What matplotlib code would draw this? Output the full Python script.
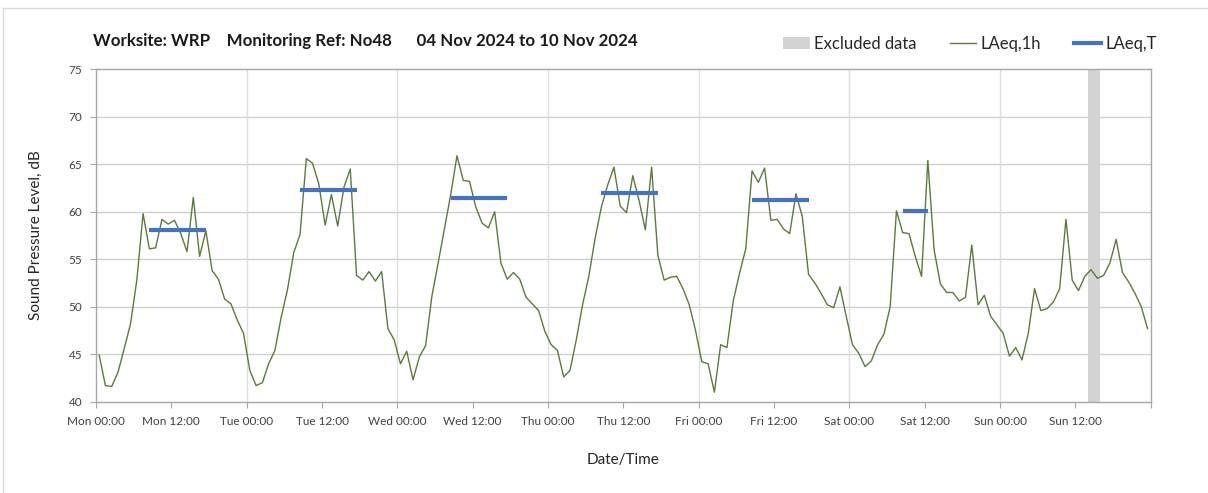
import matplotlib
matplotlib.use("Agg")
import matplotlib.pyplot as plt
from matplotlib.lines import Line2D
from matplotlib.patches import Patch
import numpy as np

plt.rcParams['font.family'] = ['Lato', 'DejaVu Sans']

# Hourly LAeq,1h values, Mon 00:00 .. Sun 23:00 (plotted at mid-hour)
laeq_1h = [
    44.9, 41.7, 41.6, 43.1, 45.6, 48.2, 52.8, 59.8, 56.1, 56.2, 59.2, 58.7,
    59.1, 57.7, 55.8, 61.5, 55.3, 58.0, 53.8, 52.9, 50.8, 50.3, 48.6, 47.2,
    43.3, 41.7, 42.0, 44.0, 45.4, 48.9, 51.8, 55.7, 57.6, 65.6, 65.1, 62.9,
    58.6, 61.8, 58.5, 62.6, 64.5, 53.3, 52.8, 53.7, 52.7, 53.7, 47.7, 46.5,
    44.0, 45.3, 42.3, 44.7, 45.9, 51.1, 54.6, 58.2, 61.8, 65.9, 63.3, 63.2,
    60.5, 58.8, 58.3, 60.0, 54.6, 52.9, 53.6, 52.9, 51.0, 50.3, 49.6, 47.4,
    46.0, 45.4, 42.6, 43.3, 46.5, 50.2, 53.2, 57.2, 60.5, 62.8, 64.7, 60.6,
    59.9, 63.8, 61.2, 58.1, 64.7, 55.4, 52.8, 53.1, 53.2, 51.9, 50.2, 47.5,
    44.2, 44.0, 41.0, 46.0, 45.7, 50.6, 53.5, 56.1, 64.3, 63.1, 64.6, 59.1,
    59.2, 58.2, 57.7, 61.9, 59.5, 53.4, 52.5, 51.4, 50.2, 49.9, 52.1, 49.0,
    46.0, 45.1, 43.7, 44.3, 46.0, 47.1, 50.0, 60.1, 57.8, 57.7, 55.3, 53.2,
    65.4, 56.0, 52.4, 51.5, 51.5, 50.6, 51.0, 56.5, 50.2, 51.2, 49.0, 48.1,
    47.2, 44.8, 45.7, 44.4, 47.2, 51.9, 49.6, 49.8, 50.5, 51.9, 59.2, 52.8,
    51.7, 53.2, 53.9, 53.0, 53.3, 54.6, 57.1, 53.6, 52.6, 51.4, 50.0, 47.7,
]

# LAeq,T periods: day index, start hour, end hour, level
period_day = [0, 1, 2, 3, 4, 5]
period_start = [8, 8, 8, 8, 8, 8]
period_end = [18, 18, 18, 18, 18, 13]
laeq_T = [58.1, 62.3, 61.4, 62.0, 61.2, 60.1]

# Excluded data window (hours from Mon 00:00)
excluded = [(158, 160)]

tick_labels = ['Mon 00:00', 'Mon 12:00', 'Tue 00:00', 'Tue 12:00', 'Wed 00:00',
               'Wed 12:00', 'Thu 00:00', 'Thu 12:00', 'Fri 00:00', 'Fri 12:00',
               'Sat 00:00', 'Sat 12:00', 'Sun 00:00', 'Sun 12:00']

title = "Worksite: WRP    Monitoring Ref: No48      04 Nov 2024 to 10 Nov 2024"

W, H = 1208, 493
fig = plt.figure(figsize=(W / 100, H / 100), dpi=100)
ax = fig.add_axes([96 / W, 1 - 401.7 / H, (1150.7 - 96) / W, (401.7 - 69.3) / H])

line_col = '#5b7a3c'
blue = '#4472c4'
grey_band = '#d3d3d3'

for a, b in excluded:
    ax.axvspan(a, b, color=grey_band, lw=0, zorder=1)

t = np.arange(len(laeq_1h)) + 0.5
ax.plot(t, laeq_1h, color=line_col, lw=1.0, zorder=3)

for d, s, e, v in zip(period_day, period_start, period_end, laeq_T):
    ax.plot([d * 24 + s + 0.5, d * 24 + e - 0.5], [v, v], color=blue, lw=3,
            solid_capstyle='butt', zorder=4)

ax.set_xlim(0, 168)
ax.set_ylim(40, 75)
ax.set_yticks(np.arange(40, 76, 5))
ax.set_xticks(np.arange(0, 169, 12))
ax.set_xticklabels(tick_labels + [''])
ax.tick_params(axis='both', direction='out', length=4, width=0.8, color='#a6a6a6',
               labelsize=8.5, labelcolor='#404040', pad=6)

for y in range(45, 75, 5):
    ax.axhline(y, color='#d0d0d0', lw=1, zorder=0)
for x in range(24, 168, 24):
    ax.axvline(x, color='#dedede', lw=1, zorder=0)

for side in ['left', 'bottom', 'top', 'right']:
    ax.spines[side].set_color('#a6a6a6')
    ax.spines[side].set_linewidth(1)

ax.set_ylabel('Sound Pressure Level, dB', fontsize=11, color='#262626', labelpad=18)
ax.set_xlabel('Date/Time', fontsize=11, color='#262626', labelpad=19)

fig.text(93 / W, 1 - 41 / H, title, fontsize=12.2, fontweight='bold', color='#1a1a1a',
         ha='left', va='center')

handles = [Patch(facecolor=grey_band, edgecolor='none'),
           Line2D([], [], color=line_col, lw=1),
           Line2D([], [], color=blue, lw=3)]
fig.legend(handles, ['Excluded data', 'LAeq,1h', 'LAeq,T'], loc='center left',
           bbox_to_anchor=(768 / W, 1 - 44 / H), ncol=3, frameon=False,
           fontsize=12, handlelength=1.6, handletextpad=0.25, columnspacing=2.0,
           labelcolor='#262626')

# outer frame lines (top and left)
fig.add_artist(Line2D([3 / W, 1], [1 - 7.5 / H, 1 - 7.5 / H], color='#d9d9d9', lw=1,
                      transform=fig.transFigure))
fig.add_artist(Line2D([3 / W, 3 / W], [0, 1 - 7.5 / H], color='#d9d9d9', lw=1,
                      transform=fig.transFigure))

fig.savefig('out.png', dpi=100, facecolor='white')
